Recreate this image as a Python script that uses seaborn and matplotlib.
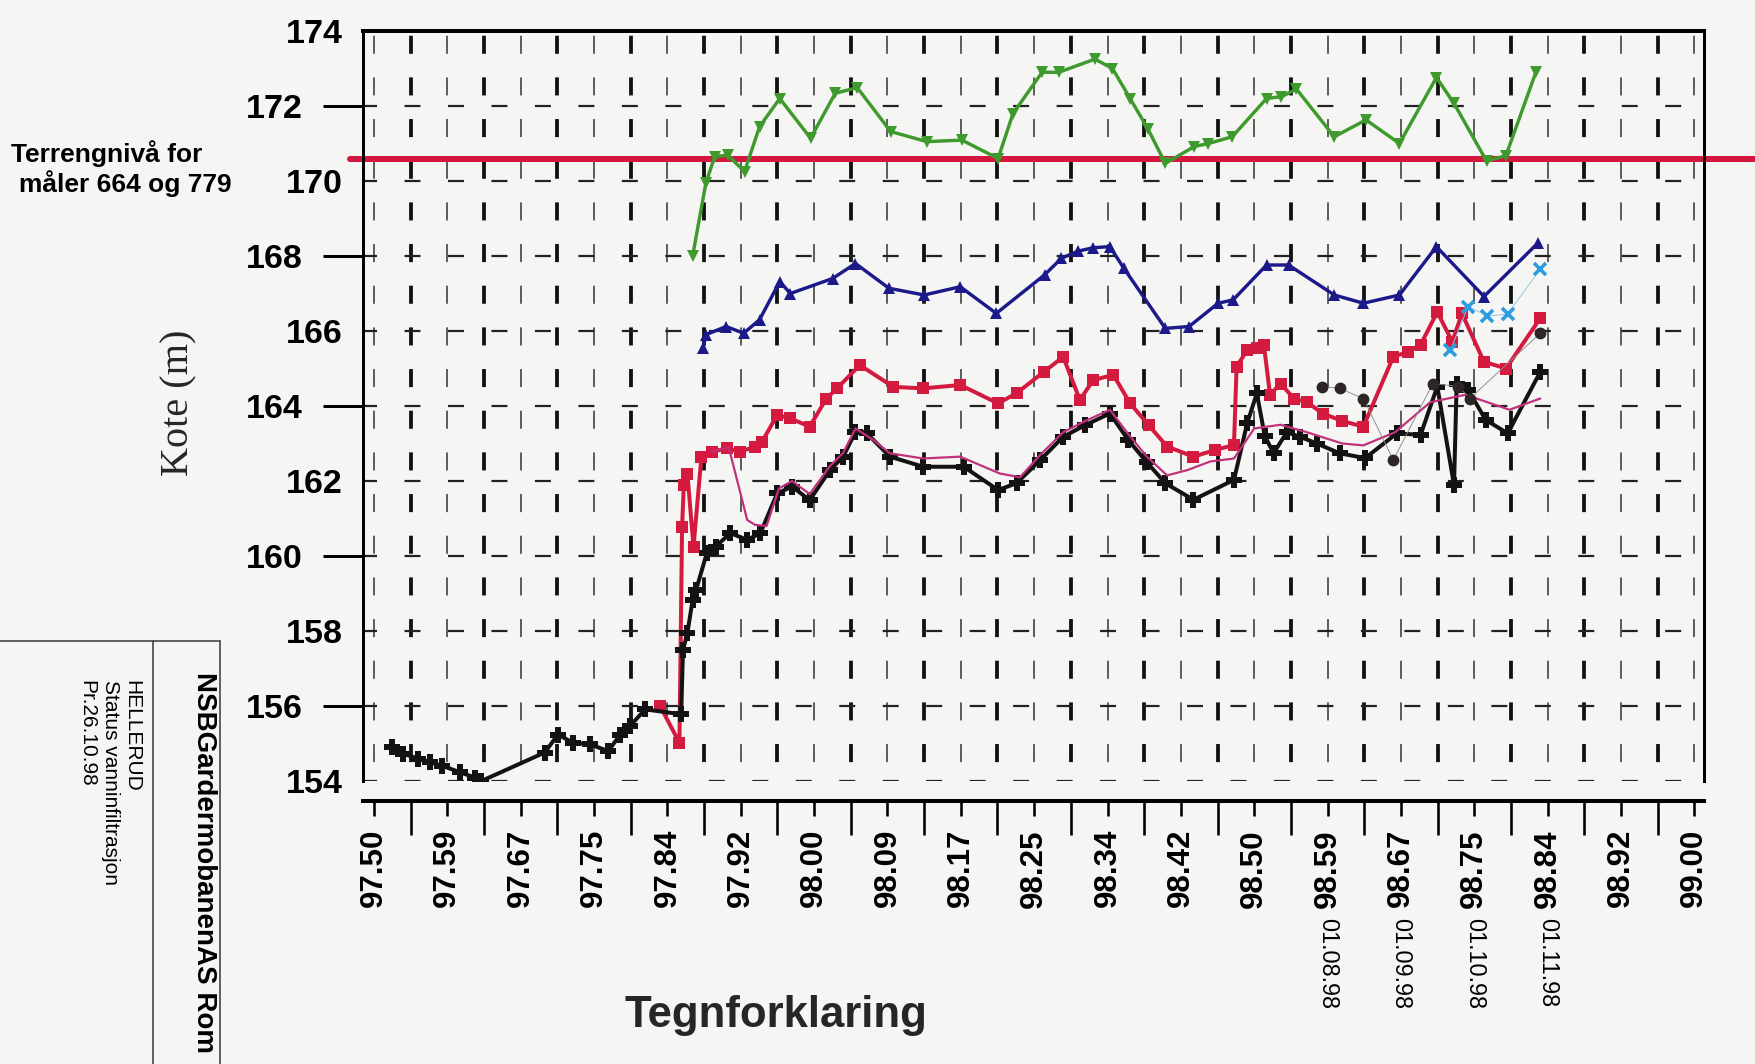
import matplotlib
matplotlib.use("Agg")
import matplotlib.pyplot as plt
from matplotlib.lines import Line2D
import seaborn as sns

# ---------------------------------------------------------------- labels
X_TICK_LABELS = ["97.50", "97.59", "97.67", "97.75", "97.84", "97.92", "98.00",
                 "98.09", "98.17", "98.25", "98.34", "98.42", "98.50", "98.59",
                 "98.67", "98.75", "98.84", "98.92", "99.00"]
Y_TICKS_MAJOR = [156, 160, 164, 168, 172]
Y_TICKS_MINOR = [154, 158, 162, 166, 170, 174]
DATE_POS = [98.5833, 98.6667, 98.75, 98.8333]
DATE_LABELS = ["01.08.98", "01.09.98", "01.10.98", "01.11.98"]
TERRAIN_LEVEL = 170.6

# ---------------------------------------------------------------- series
# green, inverted triangles
green_x = [97.862, 97.877, 97.887, 97.902, 97.921, 97.938, 97.961, 97.996, 98.024,
           98.049, 98.087, 98.128, 98.168, 98.209, 98.226, 98.259, 98.278, 98.319,
           98.339, 98.359, 98.379, 98.399, 98.432, 98.448, 98.475, 98.514, 98.531,
           98.548, 98.591, 98.627, 98.665, 98.707, 98.727, 98.764, 98.786, 98.820]
green_y = [168.0, 169.94, 170.65, 170.69, 170.25, 171.45, 172.2, 171.14, 172.34,
           172.49, 171.32, 171.05, 171.09, 170.6, 171.8, 172.9, 172.9, 173.25,
           173.0, 172.2, 171.4, 170.47, 170.92, 171.0, 171.18, 172.2, 172.25,
           172.45, 171.18, 171.63, 171.0, 172.76, 172.07, 170.53, 170.68, 172.9]

# navy, triangles
blue_x = [97.874, 97.877, 97.900, 97.920, 97.938, 97.961, 97.973, 98.021, 98.047,
          98.085, 98.125, 98.166, 98.207, 98.262, 98.281, 98.300, 98.317, 98.336,
          98.352, 98.399, 98.426, 98.459, 98.476, 98.514, 98.539, 98.591, 98.624,
          98.665, 98.707, 98.761, 98.822]
blue_y = [165.55, 165.9, 166.12, 165.94, 166.3, 167.32, 167.0, 167.4, 167.8,
          167.14, 166.96, 167.18, 166.47, 167.5, 167.94, 168.13, 168.22, 168.25,
          167.67, 166.07, 166.12, 166.74, 166.83, 167.76, 167.76, 166.96, 166.74,
          166.96, 168.25, 166.92, 168.34]

# crimson, squares
red_x = [97.825, 97.847, 97.850, 97.852, 97.856, 97.863, 97.872, 97.884, 97.901,
         97.916, 97.933, 97.941, 97.958, 97.973, 97.995, 98.014, 98.026, 98.052,
         98.090, 98.124, 98.166, 98.209, 98.230, 98.261, 98.283, 98.302, 98.317,
         98.340, 98.359, 98.380, 98.401, 98.431, 98.456, 98.477, 98.480, 98.492,
         98.503, 98.511, 98.518, 98.530, 98.545, 98.560, 98.578, 98.600, 98.624,
         98.658, 98.675, 98.689, 98.708, 98.725, 98.736, 98.761, 98.786, 98.825]
red_y = [156.0, 155.02, 160.78, 161.9, 162.2, 160.25, 162.65, 162.78, 162.87,
         162.78, 162.92, 163.05, 163.76, 163.67, 163.45, 164.2, 164.47, 165.09,
         164.51, 164.47, 164.56, 164.07, 164.34, 164.91, 165.31, 164.16, 164.69,
         164.83, 164.07, 163.49, 162.92, 162.65, 162.83, 162.96, 165.05, 165.49,
         165.55, 165.63, 164.3, 164.6, 164.2, 164.1, 163.8, 163.6, 163.45,
         165.31, 165.45, 165.63, 166.51, 165.71, 166.47, 165.18, 165.0, 166.34]

# magenta, thin line
mag_x = [97.884, 97.903, 97.924, 97.933, 97.946, 97.960, 97.975, 97.995, 98.018,
         98.033, 98.047, 98.067, 98.086, 98.124, 98.166, 98.211, 98.234, 98.257,
         98.283, 98.308, 98.336, 98.357, 98.378, 98.401, 98.424, 98.450, 98.477,
         98.500, 98.530, 98.560, 98.600, 98.624, 98.660, 98.700, 98.740, 98.790,
         98.825]
mag_y = [162.78, 162.9, 160.96, 160.83, 160.8, 161.8, 162.0, 161.65, 162.4,
         162.75, 163.4, 163.1, 162.74, 162.6, 162.65, 162.2, 162.1, 162.7,
         163.3, 163.6, 163.9, 163.25, 162.65, 162.15, 162.29, 162.52, 162.6,
         163.4, 163.5, 163.3, 163.0, 162.95, 163.3, 164.1, 164.3, 163.9,
         164.2]

# black, plus markers
black_x = [97.520, 97.533, 97.550, 97.564, 97.577, 97.598, 97.615, 97.622, 97.694,
           97.709, 97.726, 97.745, 97.766, 97.780, 97.791, 97.808, 97.849, 97.851,
           97.856, 97.862, 97.866, 97.878, 97.888, 97.905, 97.924, 97.939, 97.958,
           97.975, 97.995, 98.018, 98.033, 98.047, 98.060, 98.086, 98.124, 98.170,
           98.209, 98.230, 98.257, 98.283, 98.308, 98.336, 98.357, 98.378, 98.399,
           98.431, 98.477, 98.492, 98.503, 98.512, 98.522, 98.537, 98.552, 98.571,
           98.597, 98.626, 98.662, 98.689, 98.708, 98.727, 98.730, 98.743, 98.763,
           98.788, 98.825]
black_y = [154.91, 154.73, 154.6, 154.5, 154.41, 154.23, 154.09, 154.0, 154.76,
           155.24, 155.02, 154.98, 154.8, 155.24, 155.47, 155.91, 155.78, 157.49,
           157.94, 158.83, 159.1, 160.07, 160.25, 160.61, 160.43, 160.61, 161.67,
           161.85, 161.49, 162.29, 162.65, 163.31, 163.27, 162.65, 162.38, 162.38,
           161.76, 161.94, 162.56, 163.18, 163.49, 163.8, 163.09, 162.5, 161.94,
           161.5, 162.03, 163.54, 164.34, 163.2, 162.74, 163.3, 163.18, 163.0,
           162.74, 162.61, 163.27, 163.23, 164.52, 161.89, 164.6, 164.43, 163.63,
           163.27, 164.91]

# dark circles
dot_x = [98.577, 98.597, 98.624, 98.658, 98.703, 98.732, 98.745, 98.825]
dot_y = [164.52, 164.47, 164.2, 162.56, 164.6, 164.52, 164.2, 165.94]

# light blue crosses
cross_x = [98.723, 98.743, 98.765, 98.788, 98.825]
cross_y = [165.49, 166.65, 166.4, 166.45, 167.65]

# ---------------------------------------------------------------- style
BG = "#f5f5f3"
PX = 0.72  # points per pixel at 100 dpi

sns.set_theme(style="ticks")
plt.rcParams["font.family"] = ["Liberation Sans", "DejaVu Sans"]
plt.rcParams["lines.scale_dashes"] = False
plt.rcParams["axes.edgecolor"] = "black"
plt.rcParams["xtick.color"] = "black"
plt.rcParams["ytick.color"] = "black"
plt.rcParams["text.color"] = "black"

W, H = 1755, 1064
fig = plt.figure(figsize=(W / 100, H / 100), dpi=100, facecolor=BG)
ax = fig.add_axes([363 / W, 1 - 781 / H, 1341 / W, 750 / H])
ax.set_facecolor(BG)
ax.set_xlim(97.4875, 99.011)
ax.set_ylim(154, 174)

# dashed lattice grid
for j in range(37):
    xv = 97.5 + j / 24
    bold = j % 2 == 1
    ax.axvline(xv, color="#111111" if bold else "#3a3a3a",
               lw=(3.8 if bold else 1.6) * PX,
               linestyle=(16.4, (13.0, 17.0)), zorder=1)
for yv in range(154, 174, 2):
    ax.axhline(yv, color="#222222", lw=2.2 * PX,
               linestyle=(1.4, (11.5, 19.8)), zorder=1)

# terrain level line, running out to the right edge of the page
ax.axhline(TERRAIN_LEVEL, xmin=-0.01, xmax=1.05, color="#d3173f",
           lw=6 * PX, clip_on=False, zorder=2)


def draw(xs, ys, **kw):
    sns.lineplot(x=xs, y=ys, ax=ax, sort=False, estimator=None,
                 legend=False, **kw)


draw(green_x, green_y, color="#3e9a2c", linewidth=3.4 * PX, marker="v",
     markersize=9, markeredgecolor="#3e9a2c", markeredgewidth=0, zorder=4)
draw(blue_x, blue_y, color="#1c1a8a", linewidth=3.4 * PX, marker="^",
     markersize=8.5, markeredgecolor="#1c1a8a", markeredgewidth=0, zorder=4)
draw(red_x, red_y, color="#d51a40", linewidth=4 * PX, marker="s",
     markersize=9, markeredgecolor="#d51a40", markeredgewidth=0, zorder=5)
draw(black_x, black_y, color="#141212", linewidth=4 * PX, marker="P",
     markersize=12, markeredgecolor="#141212", markeredgewidth=0, zorder=6)
draw(mag_x, mag_y, color="#c2307c", linewidth=2.2 * PX, zorder=7)
draw(dot_x, dot_y, color="#8a8a8a", linewidth=0.9 * PX, marker="o",
     markersize=8.5, markerfacecolor="#2e2626", markeredgecolor="#2e2626",
     markeredgewidth=0, zorder=7)
draw(cross_x, cross_y, color="#8cc8ee", linewidth=0.9 * PX, marker="x",
     markersize=8, markeredgecolor="#2e9de0", markeredgewidth=2.6, zorder=7)

# spines
for side, lw in (("top", 4), ("bottom", 4), ("left", 3), ("right", 3)):
    ax.spines[side].set_linewidth(lw * PX)
    ax.spines[side].set_color("black")
ax.spines["bottom"].set_position(("outward", 20 * PX))

# x axis: labelled ticks short, intermediate ticks long
ax.set_xticks([97.5 + k / 12 for k in range(19)])
ax.set_xticklabels(X_TICK_LABELS, rotation=90, fontsize=22.5,
                   fontweight="bold")
ax.set_xticks([97.5 + (k + 0.5) / 12 for k in range(18)], minor=True)
ax.tick_params(axis="x", which="major", direction="out", length=15 * PX,
               width=2.6 * PX, pad=13 * PX)
ax.tick_params(axis="x", which="minor", direction="out", length=34 * PX,
               width=2.6 * PX)

# y axis: every second label carries a tick
ax.set_yticks(Y_TICKS_MAJOR)
ax.set_yticklabels([str(v) for v in Y_TICKS_MAJOR], fontsize=24.5,
                   fontweight="bold")
ax.set_yticks(Y_TICKS_MINOR, minor=True)
ax.set_yticklabels([str(v) for v in Y_TICKS_MINOR], minor=True, fontsize=24.5,
                   fontweight="bold")
ax.tick_params(axis="y", which="major", direction="out", length=40 * PX,
               width=3 * PX, pad=20 * PX)
ax.tick_params(axis="y", which="minor", direction="out", length=0,
               pad=20 * PX)

ax.set_ylabel("Kote (m)", family="Liberation Serif", fontsize=29)
ax.yaxis.set_label_coords(-0.137, 0.504)
ax.yaxis.label.set_va("center")

ax.set_xlabel("Tegnforklaring", fontsize=31.5, fontweight="bold")
ax.xaxis.set_label_coords(0.308, -0.312)
ax.xaxis.label.set_va("center")

# month dates under the last labels
for xp, lab in zip(DATE_POS, DATE_LABELS):
    ax.text(xp, -0.182, lab, transform=ax.get_xaxis_transform(),
            rotation=-90, ha="center", va="top", fontsize=16.8)

# terrain note on the left
fig.text(11 / W, 1 - 154 / H, "Terrengnivå for", ha="left", va="center",
         fontsize=19, fontweight="bold")
fig.text(19 / W, 1 - 184 / H, "måler 664 og 779", ha="left", va="center",
         fontsize=19, fontweight="bold")

# title block in the lower left corner
box_kw = dict(color="#404040", lw=1.6 * PX)
fig.add_artist(Line2D([0, 220 / W], [1 - 641 / H, 1 - 641 / H], **box_kw))
fig.add_artist(Line2D([153 / W, 153 / W], [0, 1 - 641 / H], **box_kw))
fig.add_artist(Line2D([220 / W, 220 / W], [0, 1 - 641 / H], **box_kw))
fig.text(204 / W, 1 - 672 / H, "NSBGardermobanenAS Rom", rotation=-90,
         ha="center", va="top", fontsize=20, fontweight="bold")
fig.text(132 / W, 1 - 680 / H, "HELLERUD", rotation=-90,
         ha="center", va="top", fontsize=15)
fig.text(110 / W, 1 - 680 / H, "Status vanninfiltrasjon", rotation=-90,
         ha="center", va="top", fontsize=15)
fig.text(87 / W, 1 - 680 / H, "Pr.26.10.98", rotation=-90,
         ha="center", va="top", fontsize=15)

fig.savefig("out.png", dpi=100, facecolor=BG)
